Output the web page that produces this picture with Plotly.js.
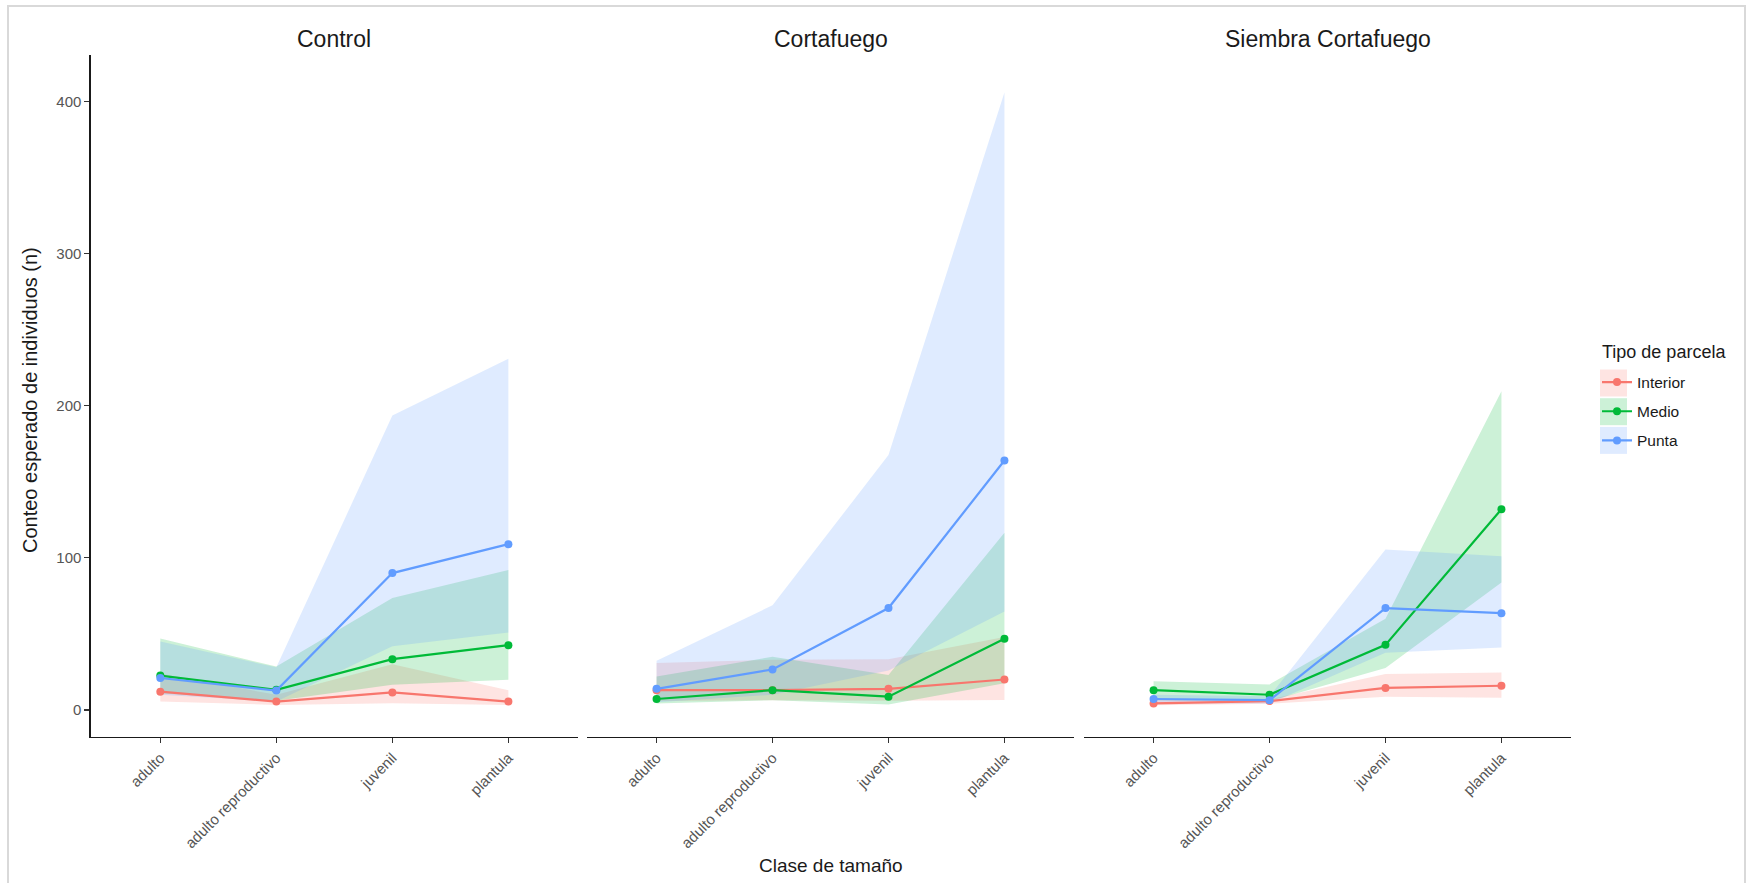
<!DOCTYPE html>
<html><head><meta charset="utf-8">
<script src="https://cdn.plot.ly/plotly-3.0.1.min.js"></script>
<style>html,body{margin:0;padding:0;background:#fff}#chart{width:1747px;height:883px}</style>
</head><body><div id="chart"></div>
<script>
// ---- data ----
const categories = ["adulto", "adulto reproductivo", "juvenil", "plantula"];
const panels = ["Control", "Cortafuego", "Siembra Cortafuego"];
const groups = ["Interior", "Medio", "Punta"];
const yTicks = [0, 100, 200, 300, 400];

// Control
const control_interior_fit = [12, 5.5, 11.5, 5.5];
const control_interior_lo  = [5.5, 3.3, 4.4, 3.3];
const control_interior_hi  = [24, 10, 30, 13];
const control_medio_fit = [22.6, 13.2, 33.4, 42.6];
const control_medio_lo  = [11, 6, 16.5, 19.8];
const control_medio_hi  = [47, 28.5, 73.6, 92];
const control_punta_fit = [21, 12.7, 90, 109];
const control_punta_lo  = [10, 5.5, 41.8, 51];
const control_punta_hi  = [45, 28, 193.6, 231];

// Cortafuego
const corta_interior_fit = [13, 13, 13.9, 20];
const corta_interior_lo  = [5.8, 6.4, 6, 6.6];
const corta_interior_hi  = [30.8, 33, 33.4, 48];
const corta_medio_fit = [7.2, 13, 8.7, 46.8];
const corta_medio_lo  = [4.3, 6.4, 3.5, 17.6];
const corta_medio_hi  = [22, 35, 23, 116.5];
const corta_punta_fit = [13.9, 26.6, 67, 164];
const corta_punta_lo  = [5, 10, 26, 64.8];
const corta_punta_hi  = [32.4, 68.8, 167.6, 406];

// Siembra Cortafuego
const siembra_interior_fit = [4.3, 5.8, 14.5, 15.9];
const siembra_interior_lo  = [3, 4, 8.7, 8];
const siembra_interior_hi  = [6.5, 7, 23.7, 24.6];
const siembra_medio_fit = [13, 10, 42.8, 132];
const siembra_medio_lo  = [6.4, 5.8, 27.5, 83.8];
const siembra_medio_hi  = [18.8, 16.8, 60, 209.5];
const siembra_punta_fit = [7.2, 6.4, 67, 63.6];
const siembra_punta_lo  = [4.3, 4.3, 37.6, 41];
const siembra_punta_hi  = [10, 9, 105.5, 101];

const series = [
  { Interior: [control_interior_fit, control_interior_lo, control_interior_hi],
    Medio:    [control_medio_fit, control_medio_lo, control_medio_hi],
    Punta:    [control_punta_fit, control_punta_lo, control_punta_hi] },
  { Interior: [corta_interior_fit, corta_interior_lo, corta_interior_hi],
    Medio:    [corta_medio_fit, corta_medio_lo, corta_medio_hi],
    Punta:    [corta_punta_fit, corta_punta_lo, corta_punta_hi] },
  { Interior: [siembra_interior_fit, siembra_interior_lo, siembra_interior_hi],
    Medio:    [siembra_medio_fit, siembra_medio_lo, siembra_medio_hi],
    Punta:    [siembra_punta_fit, siembra_punta_lo, siembra_punta_hi] }
];

// ---- style ----
const W = 1747, H = 883;
const colors = { Interior: "#F8766D", Medio: "#00BA38", Punta: "#619CFF" };
const fills  = { Interior: "rgba(248,118,109,0.2)", Medio: "rgba(0,186,56,0.2)", Punta: "rgba(97,156,255,0.2)" };
const FONT = "Liberation Sans, Arial, sans-serif";
const px = v => v / W, py = v => (H - v) / H;
const domains = [[px(90.7), px(578)], [px(587), px(1074)], [px(1084), px(1571)]];

const traces = [];
panels.forEach((p, i) => {
  const xa = i === 0 ? "x" : "x" + (i + 1);
  groups.forEach(g => {
    const [fit, lo, hi] = series[i][g];
    traces.push({
      type: "scatter", mode: "lines", xaxis: xa, yaxis: "y",
      x: categories.concat(categories.slice().reverse()),
      y: hi.concat(lo.slice().reverse()),
      fill: "toself", fillcolor: fills[g], line: { width: 0, color: fills[g] },
      hoverinfo: "skip", showlegend: false, legendgroup: g
    });
  });
});
panels.forEach((p, i) => {
  const xa = i === 0 ? "x" : "x" + (i + 1);
  groups.forEach(g => {
    const [fit] = series[i][g];
    traces.push({
      type: "scatter", mode: "lines+markers", xaxis: xa, yaxis: "y",
      x: categories, y: fit, name: g, legendgroup: g,
      showlegend: i === 0,
      line: { color: colors[g], width: 2.2 },
      marker: { color: colors[g], size: 8 }
    });
  });
});

function xaxisDef(d) {
  return {
    domain: d, anchor: "y", type: "category", categoryarray: categories,
    range: [-0.6, 3.6], showline: true, linecolor: "#1a1a1a", linewidth: 1.3,
    ticks: "outside", ticklen: 5, tickwidth: 1.2, tickcolor: "#333333",
    tickangle: -45, tickfont: { family: FONT, size: 15, color: "#555555" },
    showgrid: false, zeroline: false, fixedrange: true
  };
}

const shapes = [
  { type: "rect", xref: "paper", yref: "paper", x0: px(8), x1: px(1745), y0: -0.05, y1: py(6),
    line: { color: "#d9d9d9", width: 2 }, fillcolor: "rgba(0,0,0,0)", layer: "below" }
];
const legendY = [383, 411.7, 440.4];
groups.forEach((g, k) => {
  shapes.push({ type: "rect", xref: "paper", yref: "paper", x0: px(1600), x1: px(1627),
    y0: py(legendY[k] + 13.5), y1: py(legendY[k] - 13.5), line: { width: 0 },
    fillcolor: fills[g], layer: "below" });
});

const annotations = panels.map((p, i) => ({
  text: p, xref: "paper", yref: "paper", x: (domains[i][0] + domains[i][1]) / 2, y: py(39),
  xanchor: "center", yanchor: "middle", showarrow: false,
  font: { family: FONT, size: 23, color: "#1a1a1a" }
}));
annotations.push({ text: "Conteo esperado de individuos (n)", xref: "paper", yref: "paper",
  x: px(30), y: py(400), xanchor: "center", yanchor: "middle", textangle: -90, showarrow: false,
  font: { family: FONT, size: 20, color: "#1a1a1a" } });
annotations.push({ text: "Clase de tamaño", xref: "paper", yref: "paper",
  x: px(831), y: py(865), xanchor: "center", yanchor: "middle", showarrow: false,
  font: { family: FONT, size: 19, color: "#1a1a1a" } });
annotations.push({ text: "Tipo de parcela", xref: "paper", yref: "paper",
  x: px(1600), y: py(352), xanchor: "left", yanchor: "middle", showarrow: false,
  font: { family: FONT, size: 18, color: "#1a1a1a" } });

const layout = {
  width: W, height: H, margin: { l: 0, r: 0, t: 0, b: 0 },
  paper_bgcolor: "#ffffff", plot_bgcolor: "rgba(0,0,0,0)",
  xaxis: xaxisDef(domains[0]), xaxis2: xaxisDef(domains[1]), xaxis3: xaxisDef(domains[2]),
  yaxis: {
    domain: [py(737), py(55)], anchor: "x", range: [-17.8, 430.7],
    tickmode: "array", tickvals: yTicks, ticktext: yTicks.map(String),
    showline: true, linecolor: "#1a1a1a", linewidth: 1.3,
    ticks: "outside", ticklen: 5, tickwidth: 1.2, tickcolor: "#333333",
    tickfont: { family: FONT, size: 15, color: "#555555" },
    showgrid: false, zeroline: false, fixedrange: true
  },
  showlegend: true,
  legend: {
    x: px(1597), xanchor: "left", y: py(365.5), yanchor: "top",
    bgcolor: "rgba(0,0,0,0)", tracegroupgap: 6,
    font: { family: FONT, size: 15.5, color: "#1a1a1a" }
  },
  shapes: shapes, annotations: annotations
};

Plotly.newPlot("chart", traces, layout, { displayModeBar: false, staticPlot: true });
</script></body></html>
